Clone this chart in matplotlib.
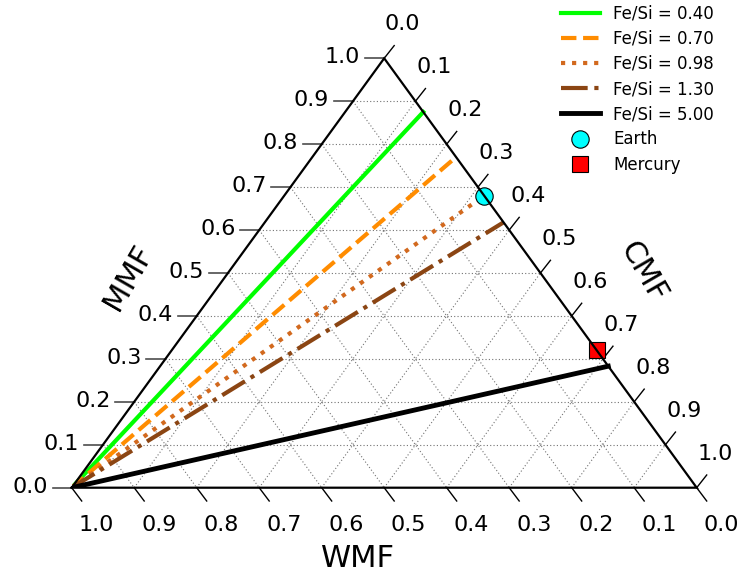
import numpy as np
import matplotlib
matplotlib.use("Agg")
import matplotlib.pyplot as plt

# Fe/Si lines: straight from the pure-water corner (WMF=1) to the WMF=0 edge,
# ending at the given core mass fraction
fe_si = [0.40, 0.70, 0.98, 1.30, 5.00]
end_cmf = [0.125, 0.23, 0.32, 0.382, 0.717]
line_colors = ["#00ff00", "#ff8c00", "#d2691e", "#8b4513", "black"]
line_styles = ["-", "--", ":", "-.", "-"]
line_widths = [3.0, 3.0, 3.0, 3.0, 3.5]

# planets as (WMF, MMF, CMF)
earth = (0.0, 0.68, 0.32)
mercury = (0.0, 0.32, 0.68)

tick_vals = [round(0.1 * i, 1) for i in range(11)]

H = np.sqrt(3) / 2


def proj(w, m, c):
    # WMF=1 bottom-left, CMF=1 bottom-right, MMF=1 top
    return c + m / 2.0, m * H


fig = plt.figure(figsize=(7.4, 5.75), dpi=100)
W_PX, H_PX = 625.0, 429.4
ax = fig.add_axes([71.7 / 740, (575 - 487.7) / 575, W_PX / 740, H_PX / 575])
ax.set_xlim(0, 1)
ax.set_ylim(0, H)
ax.axis("off")

px = 1.0 / W_PX      # data units per pixel in x
py = H / H_PX        # data units per pixel in y

# grid
for t in tick_vals[1:-1]:
    segs = [
        (proj(1 - t, t, 0), proj(0, t, 1 - t)),
        (proj(1 - t, 0, t), proj(0, 1 - t, t)),
        (proj(t, 1 - t, 0), proj(t, 0, 1 - t)),
    ]
    for a, b in segs:
        ax.plot([a[0], b[0]], [a[1], b[1]], color="0.45", lw=0.8,
                ls=(0, (1, 2)), zorder=1)

# boundary
corners = [proj(1, 0, 0), proj(0, 0, 1), proj(0, 1, 0), proj(1, 0, 0)]
ax.plot([p[0] for p in corners], [p[1] for p in corners], color="black",
        lw=1.6, zorder=6, clip_on=False, solid_joinstyle="miter")

# ticks and tick labels
for t in tick_vals:
    lab = "%.1f" % t
    # left axis (MMF)
    x, y = proj(1 - t, t, 0)
    ax.plot([x, x - 19 * px], [y, y], color="0.3", lw=1.2, clip_on=False)
    ax.text(x - 41.5 * px, y + 1 * py, lab, fontsize=16, ha="center",
            va="center")
    # bottom axis (WMF), 1.0 on the left
    x, y = proj(t, 0, 1 - t)
    ax.plot([x, x + 10 * px], [y, y - 13.3 * py], color="black", lw=1.0,
            clip_on=False)
    ax.text(x + 24.5 * px, y - 37.5 * py, lab, fontsize=16, ha="center",
            va="center")
    # right axis (CMF), 0.0 at the top
    x, y = proj(0, 1 - t, t)
    ax.plot([x, x + 10 * px], [y, y + 12.7 * py], color="black", lw=1.0,
            clip_on=False)
    ax.text(x + 18.5 * px, y + 34 * py, lab, fontsize=16, ha="center",
            va="center")

# Fe/Si lines
for r, c, col, ls, lw in zip(fe_si, end_cmf, line_colors, line_styles,
                             line_widths):
    a = proj(1, 0, 0)
    b = proj(0, 1 - c, c)
    ax.plot([a[0], b[0]], [a[1], b[1]], color=col, ls=ls, lw=lw,
            label="Fe/Si = %.2f" % r, zorder=3)

ex, ey = proj(*earth)
ax.plot(ex, ey, "o", color="cyan", mec="black", mew=0.8, ms=12.5,
        label="Earth", zorder=4, clip_on=False)
mx, my = proj(*mercury)
ax.plot(mx, my, "s", color="red", mec="black", mew=0.8, ms=12,
        label="Mercury", zorder=4, clip_on=False)

# axis titles
fig.text(357.5 / 740, 1 - 558.5 / 575, "WMF", fontsize=22, ha="center",
         va="center")
fig.text(128 / 740, 1 - 277 / 575, "MMF", fontsize=22, ha="center",
         va="center", rotation=60)
fig.text(643 / 740, 1 - 272 / 575, "CMF", fontsize=22, ha="center",
         va="center", rotation=-60)

fig.legend(loc="upper right", bbox_to_anchor=(0.985, 1.018), frameon=False,
           fontsize=12, handlelength=2.3, labelspacing=0.43, numpoints=1)

fig.savefig("out.png", dpi=100)
